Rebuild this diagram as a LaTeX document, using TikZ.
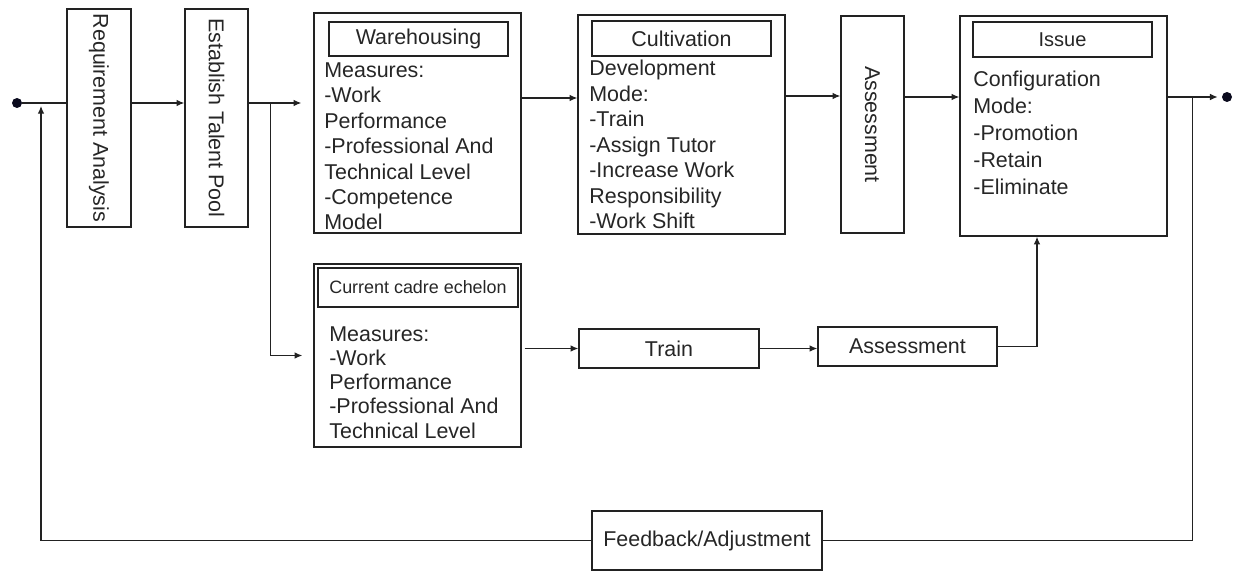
\documentclass[tikz,border=0pt]{standalone}
\usepackage{fontspec}
\setmainfont{Liberation Sans}
\usetikzlibrary{arrows.meta,positioning,calc}
\definecolor{cLine}{HTML}{222222}
\definecolor{cText}{HTML}{262626}
\definecolor{cDot}{HTML}{0B0B1E}
\tikzset{
  font=\fontsize{12.2}{14.5}\selectfont,
  base/.style={draw=cLine,line width=0.8pt,inner sep=0pt,text=cText},
  vbox/.style={base,minimum width=1.26cm,minimum height=4.36cm},
  vtext/.style={rotate=-90,inner sep=0pt,text=cText},
  bigbox/.style={base,minimum width=4.14cm,minimum height=4.40cm},
  titlebox/.style={base,minimum width=3.58cm,minimum height=0.70cm},
  body/.style={anchor=north west,align=left,inner sep=0pt,text=cText},
  proc/.style={base,minimum width=3.60cm,minimum height=0.78cm},
  flow/.style={-{Latex[length=4.4pt,width=3.8pt]},line width=0.7pt,cLine},
  link/.style={line width=0.7pt,cLine},
  dot/.style={circle,fill=cDot,inner sep=0pt,minimum size=0.2cm},
}
\begin{document}
\begin{tikzpicture}[x=0.02cm,y=-0.02cm]
\useasboundingbox (0,0) rectangle (1234,571);

% ============ TOP ROW ============
\node[dot] (startDot) at (17,103) {};
\node[vbox,minimum width=1.28cm] (reqBox) at (99,118) {};
\node[vtext] (reqText) at (reqBox) {Requirement Analysis};
\node[vbox] (poolBox) at (216.5,118) {};
\node[vtext] (poolText) at (poolBox) {Establish Talent Pool};

% warehousing
\node[bigbox] (wareBox) at (417.5,123) {};
\node[titlebox,minimum height=0.68cm] (wareTitle) at (418.5,39) {Warehousing};
\node[body] (wareText) at (324,62)
   {Measures:\\-Work\\Performance\\-Professional And\\Technical Level\\-Competence\\Model};

% cultivation
\node[bigbox,minimum height=4.38cm] (cultBox) at (681.5,124.5) {};
\node[titlebox] (cultTitle) at (681.5,38.5) {Cultivation};
\node[body] (cultText) at (589,60)
   {Development\\Mode:\\-Train\\-Assign Tutor\\-Increase Work\\Responsibility\\-Work Shift};

% assessment (vertical)
\node[vbox,minimum height=4.34cm] (assBox) at (872.5,124.5) {};
\node[vtext] (assText) at (assBox) {Assessment};

% issue
\node[bigbox] (issueBox) at (1063.5,126) {};
\node[titlebox,font=\fontsize{11.4}{13}\selectfont] (issueTitle) at (1062.5,39.5) {Issue};
\node[body,font=\fontsize{12.2}{15.4}\selectfont] (issueText) at (973,70.5)
   {Configuration\\Mode:\\-Promotion\\-Retain\\-Eliminate};
\node[dot] (endDot) at (1227,97) {};

% ============ LOWER ROW ============
\node[bigbox,minimum height=3.66cm] (cadreBox) at (417.5,355.5) {};
\node[titlebox,minimum width=4.00cm,minimum height=0.78cm,font=\fontsize{10.2}{12}\selectfont]
   (cadreTitle) at (418,287.5) {Current cadre echelon};
\node[body,font=\fontsize{12.2}{13.8}\selectfont] (cadreText) at (329,326)
   {Measures:\\-Work\\Performance\\-Professional And\\Technical Level};
\node[proc] (trainBox) at (669,348.5) {Train};
\node[proc,minimum width=3.58cm] (ass2Box) at (907.5,346.5) {Assessment};

% feedback
\node[base,minimum width=4.60cm,minimum height=1.18cm] (fbBox) at (707,540.5) {Feedback/Adjustment};

% ---------- helper points ----------
\coordinate (split) at ($(poolBox.east |- startDot)+(22,0)$);
\coordinate (rowA) at ($(wareBox.east)+(0,-25)$);
\coordinate (rowB) at ($(cultBox.east)+(0,-28.5)$);
\coordinate (rowC) at ($(assBox.east)+(0,-27.5)$);
\coordinate (rowD) at ($(issueBox.east)+(0,-29)$);
\coordinate (fbOut) at ($(rowD)+(25,0)$);
\coordinate (fbIn) at ($(startDot)+(24,0)$);

% ---------- edges: top row ----------
\draw[link] (startDot) -- (startDot -| reqBox.west);
\draw[flow] (reqBox.east |- startDot) -- (poolBox.west |- startDot);
\draw[flow,shorten >=0.24cm] (poolBox.east |- startDot) -- (wareBox.west |- startDot);
\draw[flow] (rowA) -- (rowA -| cultBox.west);
\draw[flow] (rowB) -- (rowB -| assBox.west);
\draw[flow] (rowC) -- (rowC -| issueBox.west);
\draw[flow,shorten >=0.08cm] (rowD) -- (endDot);

% ---------- edges: lower row ----------
\draw[flow,shorten >=0.22cm] (split) |- (cadreBox.west);
\draw[flow] ($(cadreBox.east |- trainBox.west)+(3,0)$) -- (trainBox.west);
\draw[flow] (trainBox.east) -- (trainBox.east -| ass2Box.west);
\draw[flow] (ass2Box.east) -| ($(issueBox.south)+(-26.5,0)$);

% ---------- feedback loop ----------
\draw[link] (fbOut) |- (fbBox.east);
\draw[flow,shorten >=0.06cm] (fbBox.west) -| (fbIn);

\end{tikzpicture}
\end{document}
